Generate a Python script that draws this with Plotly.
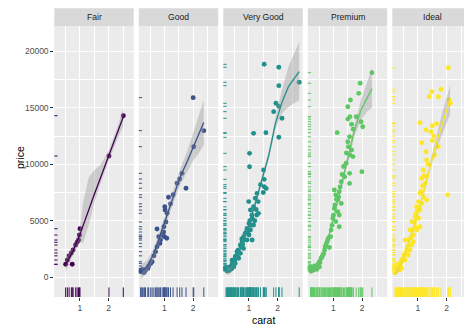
import plotly.graph_objects as go

W, H = 464, 327

cuts = ["Fair", "Good", "Very Good", "Premium", "Ideal"]
colors = ["#440154", "#3B528B", "#21908C", "#5DC863", "#FDE725"]

# ---------------- data ----------------
fair_carat = [0.50, 0.56, 0.62, 0.70, 0.73, 0.76, 0.85, 0.90, 0.95, 0.98, 1.00, 2.01, 2.51]
fair_price = [1150, 1530, 1900, 2150, 1150, 2420, 2860, 3100, 3300, 3740, 4300, 10740, 14300]

good_carat = [0.17, 0.19, 0.28, 0.34, 0.42, 0.45, 0.52, 0.57, 0.63, 0.69, 0.74, 0.74, 0.84, 0.86,
              0.92, 0.97, 0.98, 1.00, 1.01, 1.02, 1.08, 1.09, 1.14, 1.21, 1.44, 1.53, 1.61, 1.75,
              2.00, 2.02, 2.37, 0.23, 0.31, 0.80, 1.05, 1.30]
good_price = [500, 585, 410, 650, 790, 1000, 1230, 1380, 1900, 2270, 2710, 4270, 3000, 3300,
              3740, 4010, 4480, 3590, 6250, 5950, 3450, 5660, 7080, 6500, 8320, 8700, 9200, 7880,
              15900, 11560, 12980, 700, 520, 3600, 4900, 7300]

vg_carat = [0.20, 0.23, 0.23, 0.29, 0.29, 0.35, 0.35, 0.41, 0.41, 0.47, 0.47, 0.52, 0.52, 0.58,
            0.64, 0.70, 0.70, 0.76, 0.81, 0.81, 0.87, 0.93, 0.93, 1.00, 1.00, 0.99, 1.02, 1.02,
            1.05, 1.05, 1.11, 1.11, 1.16, 1.16, 1.16, 1.22, 1.27, 1.28, 1.32, 1.33, 1.51, 1.53,
            1.53, 1.53, 1.59, 1.60, 1.86, 1.94, 2.04, 2.04, 2.04, 2.04, 2.15, 2.75,
            0.25, 0.31, 0.33, 0.38, 0.40, 0.44, 0.50, 0.55, 0.60, 0.62, 0.72, 0.75, 0.78, 0.83,
            0.90, 0.95, 1.01, 1.03, 1.07, 1.10, 1.20, 1.25, 1.40, 1.50]
vg_price = [870, 560, 800, 650, 880, 940, 720, 1170, 1520, 1380, 940, 1830, 1230, 2270,
            1680, 2860, 2120, 3150, 3600, 2560, 3890, 4330, 3300, 4770, 3740, 6700, 10970, 9790,
            5960, 4190, 5220, 3300, 12740, 6240, 4630, 6990, 5510, 7430, 6700, 5660, 9500, 18850,
            8670, 8020, 12800, 7870, 14660, 15400, 18590, 16960, 15130, 12390, 14070, 17260,
            700, 600, 800, 900, 750, 1100, 1500, 1900, 2000, 2400, 2700, 3400, 2900, 3300,
            4000, 3900, 4200, 5000, 4600, 5500, 5000, 6000, 8200, 7500]

prem_carat = [0.20, 0.21, 0.22, 0.28, 0.30, 0.34, 0.40, 0.42, 0.46, 0.51, 0.51, 0.57, 0.63, 0.69,
              0.74, 0.80, 0.86, 0.90, 0.92, 0.98, 1.03, 1.03, 1.08, 1.08, 1.13, 1.15, 1.15, 1.20,
              1.20, 1.20, 1.27, 1.27, 1.39, 1.44, 1.50, 1.50, 1.50, 1.52, 1.56, 1.56, 1.56, 1.57,
              1.57, 1.59, 1.63, 1.63, 1.68, 1.69, 1.79, 1.88, 1.93, 1.96, 1.99, 2.02, 2.34,
              0.24, 0.26, 0.31, 0.36, 0.45, 0.53, 0.60, 0.66, 0.71, 0.77, 0.83, 0.95, 1.00, 1.05,
              1.10, 1.18, 1.23, 1.30, 1.35, 1.45]
prem_price = [700, 560, 940, 790, 650, 1000, 880, 700, 1170, 1380, 940, 1680, 1970, 2420,
              2860, 3300, 2640, 3600, 4190, 5220, 7730, 6100, 7280, 4930, 12800, 6840, 5800, 7580,
              5510, 4480, 8460, 6540, 8900, 10090, 15100, 14000, 11990, 11560, 12440, 9200, 8310,
              14210, 10830, 15690, 13540, 11270, 10680, 13100, 14210, 16280, 17170, 13770, 9350,
              13330, 18110,
              650, 800, 900, 750, 1000, 1300, 1800, 2100, 2700, 3100, 3500, 4600, 5500, 6400,
              6900, 7100, 8000, 9100, 9800, 11000]

ideal_carat = [0.20, 0.26, 0.26, 0.32, 0.35, 0.37, 0.43, 0.43, 0.49, 0.55, 0.55, 0.61, 0.66, 0.66,
               0.72, 0.72, 0.78, 0.78, 0.84, 0.84, 0.90, 0.90, 0.95, 0.95, 1.02, 1.02, 1.07, 1.07,
               1.07, 1.07, 1.13, 1.13, 1.13, 1.19, 1.19, 1.25, 1.28, 1.28, 1.30, 1.30, 1.30, 1.39,
               1.45, 1.48, 1.50, 1.50, 1.58, 1.71, 1.71, 1.80, 2.04, 2.06, 2.08, 2.13,
               0.23, 0.24, 0.28, 0.30, 0.33, 0.39, 0.41, 0.46, 0.52, 0.58, 0.63, 0.70, 0.75, 0.80,
               0.88, 0.93, 0.98, 1.04, 1.10, 1.16, 1.22, 1.35, 1.55, 1.65]
ideal_price = [400, 650, 1090, 940, 650, 1090, 1380, 790, 1680, 3300, 1530, 2420, 1970, 3300,
               4190, 2420, 4930, 2860, 3740, 3150, 5360, 4480, 6250, 4190, 6700, 5220, 7430, 5960,
               4480, 13680, 8760, 6540, 11910, 9500, 7130, 8310, 13040, 11120, 10380, 8900, 6840,
               15980, 12880, 16430, 13390, 12100, 10830, 15980, 11560, 16640, 7280, 18550, 15690,
               15400,
               500, 800, 900, 700, 1200, 1000, 1400, 1600, 2000, 2200, 2700, 2900, 3500, 4200,
               4900, 5600, 5900, 6200, 7600, 8100, 9000, 10000, 12500, 13600]

# smooth fits with their confidence bands
fair_s_carat = [0.50, 0.75, 1.00, 1.10, 1.30, 1.50, 1.70, 2.00, 2.30, 2.51]
fair_s_fit = [1100, 2300, 3800, 4550, 6000, 7350, 8700, 10700, 12700, 14200]
fair_s_hi = [1700, 2700, 4300, 6500, 8800, 9500, 9900, 11200, 13300, 15000]
fair_s_lo = [500, 1900, 3200, 3000, 4600, 6600, 8200, 10300, 12200, 13400]

good_s_carat = [0.17, 0.40, 0.63, 0.85, 1.09, 1.30, 1.55, 1.80, 2.02, 2.20, 2.37]
good_s_fit = [450, 1000, 2100, 3700, 5500, 7100, 8900, 10300, 11700, 12700, 13700]
good_s_hi = [1100, 1500, 2600, 4200, 6000, 7700, 9600, 11200, 13000, 14500, 15700]
good_s_lo = [-200, 500, 1600, 3200, 5000, 6500, 8200, 9400, 10400, 11000, 11700]

vg_s_carat = [0.20, 0.30, 0.40, 0.52, 0.64, 0.76, 0.88, 1.00, 1.22, 1.45, 1.69, 1.92, 2.15,
              2.38, 2.55, 2.75]
vg_s_fit = [700, 500, 700, 1300, 2100, 3000, 3800, 4650, 6550, 8600, 10800, 13600, 15500,
            16900, 17500, 18200]
vg_s_hi = [1100, 800, 950, 1550, 2350, 3250, 4050, 4900, 6850, 8900, 11150, 14100, 16600,
           18700, 19700, 20800]
vg_s_lo = [300, 200, 450, 1050, 1850, 2750, 3550, 4400, 6250, 8300, 10450, 13100, 14500,
           15100, 15400, 15700]

prem_s_carat = [0.20, 0.35, 0.57, 0.80, 1.04, 1.27, 1.50, 1.73, 1.96, 2.15, 2.34]
prem_s_fit = [550, 650, 1530, 3300, 5660, 8020, 10400, 13000, 14800, 15800, 16700]
prem_s_hi = [850, 850, 1750, 3550, 5950, 8350, 10800, 13500, 15700, 17100, 18500]
prem_s_lo = [250, 450, 1300, 3050, 5400, 7700, 10000, 12500, 13900, 14600, 15000]

ideal_s_carat = [0.20, 0.35, 0.50, 0.70, 0.89, 1.13, 1.36, 1.60, 1.85, 2.12]
ideal_s_fit = [400, 800, 1700, 3200, 4780, 6840, 9200, 11500, 13600, 15700]
ideal_s_hi = [600, 1000, 1900, 3400, 5000, 7100, 9500, 12000, 14600, 17000]
ideal_s_lo = [200, 600, 1500, 3000, 4550, 6600, 8900, 11000, 12700, 14400]

y_ticks = [0, 5000, 10000, 15000, 20000]
x_ticks = [1, 2]
x_ticktext = ["1", "2"]

points = [(fair_carat, fair_price), (good_carat, good_price), (vg_carat, vg_price),
          (prem_carat, prem_price), (ideal_carat, ideal_price)]
smooths = [(fair_s_carat, fair_s_fit, fair_s_hi, fair_s_lo),
           (good_s_carat, good_s_fit, good_s_hi, good_s_lo),
           (vg_s_carat, vg_s_fit, vg_s_hi, vg_s_lo),
           (prem_s_carat, prem_s_fit, prem_s_hi, prem_s_lo),
           (ideal_s_carat, ideal_s_fit, ideal_s_hi, ideal_s_lo)]

# ---------------- geometry (pixels) ----------------
LEFT0, STEP, PW = 54.3, 84.5, 79.4
PTOP, PBOT, STOP = 26.0, 297.0, 8.3
XMIN, XMAX = 0.105, 2.872
YMIN, YMAX = -1743, 22240
PX_PER_C = PW / (XMAX - XMIN)

FONT = "Liberation Sans, Arial, sans-serif"

def px(x):
    return x / W

def py(y):
    return 1 - y / H

fig = go.Figure()
layout = {}
shapes = []
annotations = []

rug_y = YMIN + 4.0 / (PBOT - PTOP) * (YMAX - YMIN)
rug_x = XMIN + 1.3 / PX_PER_C

for k, cut in enumerate(cuts):
    left = LEFT0 + k * STEP
    right_full = left + PW
    right = min(right_full, W)
    xmax_k = XMIN + (right - left) / PX_PER_C
    sfx = "" if k == 0 else str(k + 1)
    xa, ya = "x" + sfx, "y" + sfx
    col = colors[k]
    cx, cy = points[k]
    sc, sf, shi, slo = smooths[k]

    fig.add_trace(go.Scatter(x=cx, y=cy, mode="markers", xaxis=xa, yaxis=ya,
                             marker=dict(color=col, size=4.9, line=dict(width=0)),
                             showlegend=False, hoverinfo="skip"))
    fig.add_trace(go.Scatter(x=sc + sc[::-1], y=shi + slo[::-1], mode="lines", fill="toself",
                             fillcolor="rgba(153,153,153,0.4)", line=dict(width=0),
                             xaxis=xa, yaxis=ya, showlegend=False, hoverinfo="skip"))
    fig.add_trace(go.Scatter(x=sc, y=sf, mode="lines", line=dict(color=col, width=1.3),
                             xaxis=xa, yaxis=ya, showlegend=False, hoverinfo="skip"))
    # rugs
    fig.add_trace(go.Scatter(x=cx, y=[rug_y] * len(cx), mode="markers", xaxis=xa, yaxis=ya,
                             marker=dict(symbol="line-ns", size=8, line=dict(width=1, color=col)),
                             showlegend=False, hoverinfo="skip"))
    fig.add_trace(go.Scatter(x=[rug_x] * len(cy), y=cy, mode="markers", xaxis=xa, yaxis=ya,
                             marker=dict(symbol="line-ew", size=2.8, line=dict(width=1, color=col)),
                             showlegend=False, hoverinfo="skip"))

    layout["xaxis" + sfx] = dict(
        domain=[px(left), px(right)], range=[XMIN, xmax_k], anchor=ya, automargin=False,
        tickvals=x_ticks, ticktext=x_ticktext, ticks="outside", ticklen=3, tickwidth=1,
        tickcolor="#333333", showgrid=True, gridcolor="white", gridwidth=1.1,
        minor=dict(dtick=0.5, tick0=0, showgrid=True, gridcolor="white", gridwidth=0.5),
        zeroline=False, showline=False,
        tickfont=dict(family=FONT, size=8.5, color="#4D4D4D"), fixedrange=True)
    ydict = dict(
        domain=[py(PBOT), py(PTOP)], range=[YMIN, YMAX], anchor=xa, automargin=False,
        tickvals=y_ticks, tickformat="d", showgrid=True, gridcolor="white", gridwidth=1.1,
        minor=dict(dtick=2500, tick0=0, showgrid=True, gridcolor="white", gridwidth=0.5),
        zeroline=False, showline=False, fixedrange=True)
    if k == 0:
        ydict.update(ticks="outside", ticklen=3, tickwidth=1, tickcolor="#333333",
                     tickfont=dict(family=FONT, size=8.5, color="#4D4D4D"))
    else:
        ydict.update(showticklabels=False, ticks="")
    layout["yaxis" + sfx] = ydict

    shapes.append(dict(type="rect", xref="paper", yref="paper", x0=px(left), x1=px(right),
                       y0=py(PTOP), y1=py(STOP), fillcolor="#D9D9D9", line=dict(width=0),
                       layer="below"))
    annotations.append(dict(text=cut, xref="paper", yref="paper",
                            x=px((left + right_full) / 2), y=py((PTOP + STOP) / 2),
                            xanchor="center", yanchor="middle", showarrow=False,
                            font=dict(family=FONT, size=8.6, color="#1A1A1A")))

annotations.append(dict(text="carat", xref="paper", yref="paper",
                        x=px(LEFT0 + (4 * STEP + PW) / 2), y=py(320), xanchor="center",
                        yanchor="middle", showarrow=False,
                        font=dict(family=FONT, size=10.5, color="black")))
annotations.append(dict(text="price", xref="paper", yref="paper", x=px(20), y=py(158),
                        xanchor="center", yanchor="middle", showarrow=False, textangle=-90,
                        font=dict(family=FONT, size=10.5, color="black")))

fig.update_layout(width=W, height=H, margin=dict(l=0, r=0, t=0, b=0, autoexpand=False),
                  paper_bgcolor="white", plot_bgcolor="#EBEBEB",
                  shapes=shapes, annotations=annotations, showlegend=False, **layout)

fig.write_html("out.html", config={"displayModeBar": False},
               post_script="document.body.style.margin='0';document.body.style.overflow='hidden';")
